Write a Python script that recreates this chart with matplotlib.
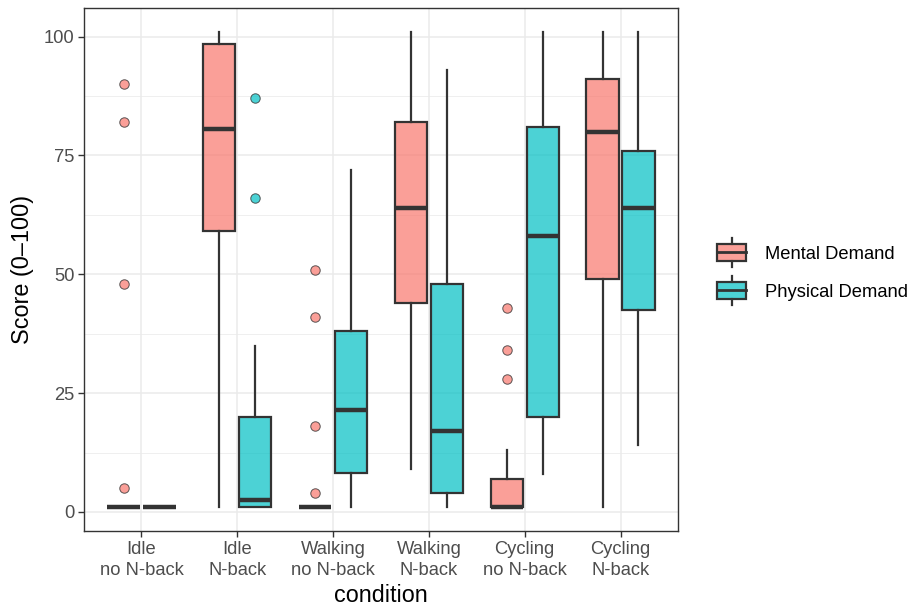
import matplotlib.pyplot as plt
from matplotlib.patches import Rectangle
from matplotlib.lines import Line2D
from matplotlib.legend_handler import HandlerBase
from matplotlib.colors import to_rgb

plt.switch_backend('Agg')
plt.rcParams['font.family'] = ['Liberation Sans', 'DejaVu Sans']

# condition labels
conditions = ['Idle\nno N-back', 'Idle\nN-back', 'Walking\nno N-back',
              'Walking\nN-back', 'Cycling\nno N-back', 'Cycling\nN-back']

# five-number summaries: whislo, q1, med, q3, whishi
mental_whislo = [1, 1, 1, 9, 1, 1]
mental_q1 = [1, 59, 1, 44, 1, 49]
mental_med = [1, 80.5, 1, 64, 1, 80]
mental_q3 = [1, 98.5, 1, 82, 7, 91]
mental_whishi = [1, 101, 1, 101, 13, 101]
mental_out = [[90, 82, 48, 5], [], [51, 41, 18, 4], [], [43, 34, 28], []]

physical_whislo = [1, 1, 1, 1, 8, 14]
physical_q1 = [1, 1, 8.2, 4, 20, 42.5]
physical_med = [1, 2.6, 21.5, 17, 58, 64]
physical_q3 = [1, 20, 38, 48, 81, 76]
physical_whishi = [1, 35, 72, 93, 101, 101]
physical_out = [[], [87, 66], [], [], [], []]

series = ['Mental Demand', 'Physical Demand']
colors = ['#F8766D', '#00BFC4']
edge = '#333333'


def make_stats(lo, q1, med, q3, hi, out):
    return [dict(whislo=a, q1=b, med=c, q3=d, whishi=e, fliers=f)
            for a, b, c, d, e, f in zip(lo, q1, med, q3, hi, out)]


stats = [
    make_stats(mental_whislo, mental_q1, mental_med, mental_q3, mental_whishi, mental_out),
    make_stats(physical_whislo, physical_q1, physical_med, physical_q3, physical_whishi, physical_out),
]

fig = plt.figure(figsize=(9.15, 6.11), dpi=100)
ax = fig.add_axes([84 / 915, 1 - 531 / 611, (678 - 84) / 915, (531 - 8) / 611])

n = len(conditions)
pos = list(range(1, n + 1))
offset = 0.1875
for k, (st, col) in enumerate(zip(stats, colors)):
    p = [x + (offset if k else -offset) for x in pos]
    ax.bxp(st, positions=p, widths=0.3375, patch_artist=True, showcaps=False,
           boxprops=dict(facecolor=(*to_rgb(col), 0.7), edgecolor=edge, linewidth=1.6),
           whiskerprops=dict(color=edge, linewidth=1.6),
           medianprops=dict(color=edge, linewidth=3.2, solid_capstyle='butt'),
           flierprops=dict(marker='o', markerfacecolor=(*to_rgb(col), 0.7),
                           markeredgecolor=(0.2, 0.2, 0.2, 0.8),
                           markeredgewidth=0.7, markersize=6.8),
           zorder=3)

ax.set_xlim(0.4, n + 0.6)
ax.set_ylim(-4, 106)
ax.set_xticks(pos)
ax.set_xticklabels(conditions, linespacing=1.3)
ax.set_yticks([0, 25, 50, 75, 100])
ax.set_yticks([12.5, 37.5, 62.5, 87.5], minor=True)
ax.grid(True, which='major', color='#EBEBEB', linewidth=1.1, zorder=0)
ax.grid(True, which='minor', axis='y', color='#EBEBEB', linewidth=0.55, zorder=0)
ax.set_axisbelow(True)
ax.tick_params(axis='both', which='major', length=4, width=1, color=edge,
               labelsize=13.2, labelcolor='#4D4D4D', pad=3)
ax.tick_params(axis='both', which='minor', length=0)
for s in ax.spines.values():
    s.set_color(edge)
    s.set_linewidth(1)

ax.set_xlabel('condition', fontsize=16.8, labelpad=4)
ax.set_ylabel('Score (0\u2013100)', fontsize=16.8, labelpad=7)


class BoxKey(HandlerBase):
    # small boxplot glyph like ggplot's legend key
    def create_artists(self, legend, orig_handle, xdescent, ydescent,
                       width, height, fontsize, trans):
        fc = orig_handle.get_facecolor()
        x0 = -xdescent
        cy = -ydescent + height / 2
        bh = height * 0.82
        box = Rectangle((x0, cy - bh / 2), width, bh,
                        facecolor=fc, edgecolor=edge, linewidth=1.6, transform=trans)
        med = Line2D([x0, x0 + width], [cy, cy], color=edge,
                     linewidth=2.0, transform=trans)
        cx = x0 + width / 2
        wl = Line2D([cx, cx], [cy - height * 0.72, cy - bh / 2], color=edge,
                    linewidth=1.6, transform=trans)
        wh = Line2D([cx, cx], [cy + bh / 2, cy + height * 0.72], color=edge,
                    linewidth=1.6, transform=trans)
        return [wl, wh, box, med]


handles = [Rectangle((0, 0), 1, 1, facecolor=(*to_rgb(c), 0.7)) for c in colors]
fig.legend(handles, series, handler_map={Rectangle: BoxKey()},
           loc='center left', bbox_to_anchor=(717 / 915, 1 - 271.5 / 611),
           frameon=False, fontsize=13.2, handlelength=1.6, handleheight=1.3,
           handletextpad=1.0, labelspacing=0.98, borderaxespad=0, borderpad=0)

fig.savefig('out.png', dpi=100)
